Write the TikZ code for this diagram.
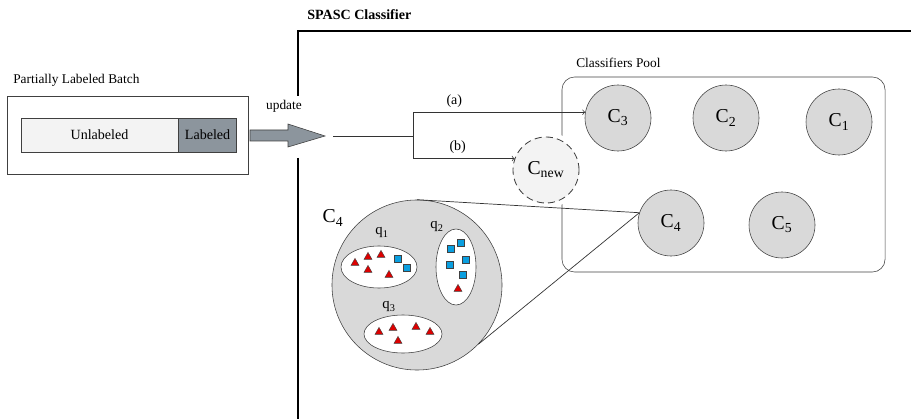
\documentclass[tikz,border=0pt]{standalone}
\usepackage{fontspec}
\setmainfont{Liberation Serif}
\usetikzlibrary{shapes.geometric,positioning}

\definecolor{poolgray}{HTML}{D9D9D9}
\definecolor{newgray}{HTML}{F3F3F3}
\definecolor{slate}{HTML}{8C959D}
\definecolor{edgegray}{HTML}{404040}
\definecolor{ptred}{HTML}{DD0000}
\definecolor{ptblue}{HTML}{0A9FE0}

% classifier label with subscript
\newcommand{\cls}[1]{C\textsubscript{#1}}

\begin{document}
\begin{tikzpicture}[x=0.025cm, y=-0.025cm,
    clf/.style={circle, draw=edgegray, fill=poolgray, minimum size=1.65cm, inner sep=0pt, font=\fontsize{14}{16}\selectfont},
    clfnew/.style={clf, dash pattern=on 5pt off 3pt, line width=0.6pt, fill=newgray, preaction={draw=white, solid, line width=7pt}},
    lbl/.style={inner sep=0pt, font=\fontsize{9.5}{11}\selectfont},
    bar/.style={draw=edgegray, minimum height=0.85cm, inner sep=0pt, font=\fontsize{10}{12}\selectfont},
    cluster/.style={ellipse, draw=edgegray, fill=white, inner sep=0pt},
    qlbl/.style={inner sep=0pt, font=\fontsize{10.5}{12}\selectfont},
    tri/.style={regular polygon, regular polygon sides=3, draw=black!75, fill=ptred, minimum size=0.23cm, inner sep=0pt, line width=0.3pt},
    sq/.style={rectangle, draw=black!75, fill=ptblue, minimum size=0.17cm, inner sep=0pt, line width=0.3pt},
    link/.style={draw=black!80, line width=0.5pt},
  ]
    \useasboundingbox (0,0) rectangle (911,419);

    % incoming batch
    \node[lbl, anchor=west] (batchlbl) at (13,80) {Partially Labeled Batch};
    \node[draw=edgegray, minimum width=6.025cm, minimum height=1.95cm, inner sep=0pt] (batch) at (127.5,135) {};
    \node[bar, fill=newgray, minimum width=3.925cm] (unlab) at (99.5,135) {Unlabeled};
    \node[bar, fill=slate, minimum width=1.45cm, right=0pt of unlab] (lab) {Labeled};

    % update arrow
    \draw[draw=edgegray, fill=slate] (250,130) -- (288,130) -- (288,124) -- (325,136)
      -- (288,147) -- (288,141) -- (250,141) -- cycle;
    \coordinate (updtip) at (325,136);
    \node[lbl] (updlbl) at (284,106) {update};

    % SPASC frame
    \node[lbl, anchor=west, font=\fontsize{10}{12}\selectfont\bfseries] (spasc) at (307,15) {SPASC Classifier};
    \draw[line width=1.7pt] (298,96) -- (298,31) -- (913,31);
    \draw[line width=1.7pt] (298,158) -- (298,421);

    % classifiers pool
    \node[lbl, anchor=west] (poollbl) at (576,63) {Classifiers Pool};
    \node[draw=edgegray, rounded corners=9pt, minimum width=8.075cm, minimum height=4.875cm] (pool) at (723.5,174.5) {};
    \node[clf] (c3) at (618,118) {\cls{3}};
    \node[clf] (c2) at (726,118) {\cls{2}};
    \node[clf] (c1) at (839,122) {\cls{1}};
    \node[clf] (c4) at (671,223) {\cls{4}};
    \node[clf] (c5) at (782,225) {\cls{5}};
    \node[clfnew] (cnew) at (546,170) {\cls{new}};

    % branching into the pool
    \coordinate (start) at (333,136);
    \coordinate (fork) at (413,136);
    \draw[link] (start) -- (fork);
    \draw[link, ->] (fork) |- (c3.170) node[pos=0.62, above, font=\fontsize{10}{12}\selectfont] {(a)};
    \draw[link, ->] (fork) |- (cnew.160) node[pos=0.72, above, font=\fontsize{10}{12}\selectfont] {(b)};

    % zoom into C4
    \node[circle, draw=edgegray, fill=poolgray, minimum size=4.25cm, inner sep=0pt] (bigc4) at (417,285) {};
    \node[lbl, font=\fontsize{14}{16}\selectfont] (bigc4lbl) at (333,218) {\cls{4}};
    \draw[link] (bigc4.north) -- (c4.162);
    \draw[link] (bigc4.-44) -- (c4.162);

    % clusters q1, q2, q3
    \node[cluster, minimum width=1.9cm, minimum height=1.05cm] (qa) at (379,267) {};
    \node[cluster, minimum width=1.0cm, minimum height=1.9cm] (qb) at (456,267) {};
    \node[cluster, minimum width=1.95cm, minimum height=0.95cm] (qc) at (403,334) {};
    \node[qlbl] (qalbl) at (382,233) {q\textsubscript{1}};
    \node[qlbl] (qblbl) at (437,227) {q\textsubscript{2}};
    \node[qlbl] (qclbl) at (389,307) {q\textsubscript{3}};

    \foreach \mx/\my [count=\k] in {355/263, 368/257, 381/255, 368/270, 389/275}
      \node[tri] (qa-t\k) at (\mx,\my) {};
    \foreach \mx/\my [count=\k] in {398/259, 407/268}
      \node[sq] (qa-s\k) at (\mx,\my) {};

    \foreach \mx/\my [count=\k] in {451/249, 461/243, 450/265, 466/260, 463/275}
      \node[sq] (qb-s\k) at (\mx,\my) {};
    \node[tri] (qb-t1) at (458,289) {};

    \foreach \mx/\my [count=\k] in {379/332, 393/328, 416/327, 430/332, 398/341}
      \node[tri] (qc-t\k) at (\mx,\my) {};
  \end{tikzpicture}
\end{document}
